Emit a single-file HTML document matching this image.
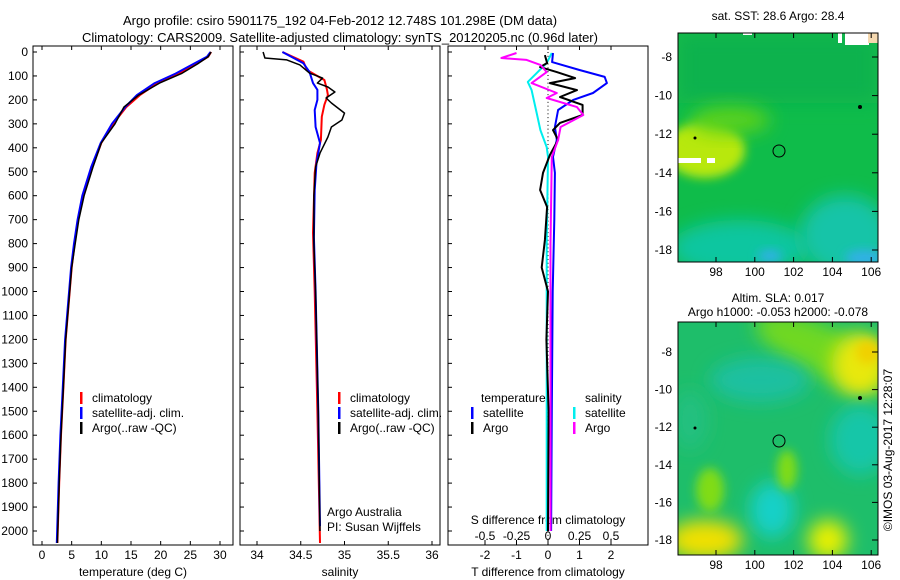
<!DOCTYPE html>
<html><head><meta charset="utf-8">
<style>
body{margin:0;background:#fff;}
svg{display:block;font-family:"Liberation Sans",sans-serif;font-size:12px;}
</style></head>
<body>
<svg id="c" width="900" height="580">
<defs>
<filter id="bl" x="-50%" y="-50%" width="200%" height="200%"><feGaussianBlur stdDeviation="9"/></filter>
<filter id="bl2" x="-50%" y="-50%" width="200%" height="200%"><feGaussianBlur stdDeviation="5"/></filter>
<clipPath id="m1"><rect x="678" y="33" width="200" height="229"/></clipPath>
<clipPath id="m2"><rect x="678" y="322" width="200" height="233"/></clipPath>
</defs>
<text x="340" y="25" text-anchor="middle" font-size="13">Argo profile: csiro 5901175_192 04-Feb-2012 12.748S 101.298E (DM data)</text>
<text x="340" y="42" text-anchor="middle" font-size="13">Climatology: CARS2009. Satellite-adjusted climatology: synTS_20120205.nc (0.96d later)</text>

<g>
<text x="778" y="20" text-anchor="middle">sat. SST: 28.6 Argo: 28.4</text>
<g clip-path="url(#m1)">
<rect x="678" y="33" width="200" height="229" fill="#0fbc4a"/>
<rect x="678" y="33" width="200" height="70" fill="#08b24e" filter="url(#bl)"/>
<ellipse cx="705" cy="150" rx="40" ry="28" fill="#b8e80c" filter="url(#bl2)"/>
<ellipse cx="730" cy="120" rx="40" ry="14" fill="#5ad21e" filter="url(#bl)"/>
<ellipse cx="740" cy="248" rx="70" ry="28" fill="#10c6a0" filter="url(#bl)"/>
<ellipse cx="845" cy="235" rx="45" ry="40" fill="#12c4a8" filter="url(#bl)"/>
<ellipse cx="865" cy="258" rx="20" ry="8" fill="#30b0e8" filter="url(#bl2)"/>
<ellipse cx="770" cy="256" rx="12" ry="6" fill="#30b0e8" filter="url(#bl2)"/>
<rect x="743" y="33" width="9" height="2" fill="#fff"/>
<rect x="845" y="33" width="24" height="12" fill="#fff"/>
<rect x="838" y="33" width="4" height="10" fill="#fff"/>
<rect x="868" y="33" width="10" height="10" fill="#f4d8b0"/>
<rect x="678" y="158" width="23" height="5" fill="#fff"/>
<rect x="707" y="158" width="8" height="5" fill="#fff"/>
</g>
<circle cx="860" cy="107" r="2" fill="#000"/><circle cx="695" cy="138" r="1.5" fill="#000"/>
<circle cx="779" cy="151" r="6" fill="none" stroke="#000"/>
<rect x="678" y="33" width="200" height="229" fill="none" stroke="#000"/>
</g>

<g>
<text x="778" y="302" text-anchor="middle">Altim. SLA: 0.017</text>
<text x="778" y="316" text-anchor="middle">Argo h1000: -0.053 h2000: -0.078</text>
<g clip-path="url(#m2)">
<rect x="678" y="322" width="200" height="233" fill="#1ebe6a"/>
<ellipse cx="820" cy="350" rx="70" ry="25" fill="#70d820" filter="url(#bl)" transform="rotate(25 820 350)"/>
<ellipse cx="860" cy="365" rx="28" ry="32" fill="#e8e808" filter="url(#bl)"/>
<ellipse cx="868" cy="352" rx="12" ry="12" fill="#f0d000" filter="url(#bl2)"/>
<ellipse cx="760" cy="380" rx="50" ry="22" fill="#1cc0a0" filter="url(#bl)"/>
<ellipse cx="860" cy="440" rx="30" ry="35" fill="#18c6a8" filter="url(#bl)"/>
<ellipse cx="772" cy="510" rx="22" ry="28" fill="#18d0c8" filter="url(#bl)"/>
<ellipse cx="705" cy="540" rx="38" ry="20" fill="#f0e000" filter="url(#bl)"/>
<ellipse cx="828" cy="540" rx="20" ry="20" fill="#e8f000" filter="url(#bl)"/>
<ellipse cx="710" cy="490" rx="14" ry="22" fill="#80dc18" filter="url(#bl2)"/>
<ellipse cx="787" cy="470" rx="10" ry="20" fill="#80dc18" filter="url(#bl2)"/>
<ellipse cx="690" cy="420" rx="18" ry="30" fill="#22c080" filter="url(#bl)"/>
</g>
<circle cx="860" cy="398" r="2" fill="#000"/><circle cx="695" cy="428" r="1.5" fill="#000"/>
<circle cx="779" cy="441" r="6" fill="none" stroke="#000"/>
<rect x="678" y="322" width="200" height="233" fill="none" stroke="#000"/>
</g>
<text transform="translate(892 450) rotate(-90)" text-anchor="middle">©IMOS 03-Aug-2017 12:28:07</text>
<g id="dyn"></g>
</svg>
<script>
const depthTicks=[0,100,200,300,400,500,600,700,800,900,1000,1100,1200,1300,1400,1500,1600,1700,1800,1900,2000];
const tTicks=[0,5,10,15,20,25,30];
const sTicks=[34,34.5,35,35.5,36];
const sTickLabels=["34","34.5","35","35.5","36"];
const tdTicks=[-2,-1,0,1,2];
const sdTicks=[-0.5,-0.25,0,0.25,0.5];
const sdTickLabels=["-0.5","-0.25","0","0.25","0.5"];
const latTicks=[-8,-10,-12,-14,-16,-18];
const lonTicks=[98,100,102,104,106];
// temperature profiles [value, depth]
const tempClimDepth=[0,20,50,90,130,180,230,300,380,480,600,700,800,900,1050,1200,1400,1600,1800,2050];
const tempClim=[28.5,28,26,23,19.5,16.5,14.2,12,10,8.5,7,6.1,5.5,5,4.5,4,3.6,3.2,2.9,2.6];
const tempSat=[28.4,27.8,25.5,22.5,19,16,14,11.8,9.9,8.3,6.8,6,5.4,4.9,4.4,3.9,3.5,3.1,2.8,2.5];
const tempArgo=[28.5,28,26.2,23.5,19.8,16.3,13.8,12.3,10,8.6,7.1,6.2,5.6,5,4.5,4,3.6,3.2,2.9,2.6];
// salinity
const salClimDepth=[0,40,75,117,158,180,220,270,367,422,505,755,1000,1500,2050];
const salClim=[34.29,34.53,34.57,34.77,34.8,34.81,34.77,34.74,34.73,34.69,34.66,34.64,34.66,34.69,34.72];
const salSatDepth=[0,47,83,130,158,200,242,313,380,463,576,773,1000,1500,1980];
const salSat=[34.29,34.53,34.6,34.64,34.69,34.69,34.66,34.67,34.72,34.68,34.66,34.65,34.67,34.7,34.72];
const salArgoDepth=[0,25,33,54,88,109,130,146,167,192,213,255,284,313,355,422,480,600,800,1000,1500,2000];
const salArgo=[34.07,34.09,34.34,34.49,34.6,34.75,34.69,34.81,34.89,34.79,34.85,35.0,34.97,34.85,34.81,34.72,34.67,34.65,34.65,34.67,34.7,34.72];
// T differences
const tdSatDepth=[4,42,75,104,130,171,200,242,313,367,438,505,700,1000,1500,2000];
const tdSat=[0.16,0.13,1.0,1.8,1.87,1.43,0.8,0.32,0.22,0.28,0.16,0.22,0.2,0.15,0.12,0.1];
const tdArgoDepth=[13,46,63,84,109,130,159,188,221,263,296,326,367,430,505,576,647,785,900,1000,1200,1500,2000];
const tdArgo=[-0.1,-0.03,-0.25,0.28,0.86,0.06,0.92,0.38,1.1,1.1,0.38,0.16,0.32,0.06,-0.16,-0.25,-0.03,-0.1,-0.2,0,-0.05,0.02,0];
// S differences
const sdArgoDepth=[4,25,33,54,84,130,171,192,230,263,313,367,438,800,1500,2000];
const sdArgo=[-0.25,-0.37,-0.17,-0.06,-0.01,-0.13,0.07,-0.01,0.23,0.28,0.1,0.08,0.03,0.02,0.02,0.02];
const sdSatDepth=[4,46,88,125,159,255,326,397,438,800,1500,2000];
const sdSat=[0.03,-0.01,-0.09,-0.16,-0.13,-0.09,-0.06,-0.01,0,-0.01,-0.01,-0.01];

const NS="http://www.w3.org/2000/svg";
const g=document.getElementById('dyn');
function mk(tag,attrs,parent){const e=document.createElementNS(NS,tag);for(const k in attrs)e.setAttribute(k,attrs[k]);(parent||g).appendChild(e);return e;}
const yD=d=>52+d*0.2395;
const xT=v=>42+v*5.933;
const xS=v=>257+(v-34)*87.5;
const xTD=v=>548+v*31.5;
const xSD=v=>548+v*126;
const panels=[[33,233],[240,440],[448,648]];
const TOP=46,BOT=545;
panels.forEach((p,i)=>{
  const r=mk('rect',{x:p[0],y:TOP,width:p[1]-p[0],height:BOT-TOP,fill:'none',stroke:'#000'});
  
  
  depthTicks.forEach(d=>{mk('line',{x1:p[0],x2:p[0]+4,y1:yD(d),y2:yD(d),stroke:'#000'});});
});
depthTicks.forEach(d=>{
  const t=mk('text',{x:28,y:yD(d)+4,'text-anchor':'end'});t.textContent=d;
  
  
});
function xAxis(ticks,labels,fx,y,tickTop,tickBot){
  ticks.forEach((v,i)=>{
    mk('line',{x1:fx(v),x2:fx(v),y1:tickTop,y2:tickBot,stroke:'#000'});
    const t=mk('text',{x:fx(v),y:y,'text-anchor':'middle'});t.textContent=labels[i];
    
    
  });
}
xAxis(tTicks,tTicks.map(String),xT,559,BOT-4,BOT);
tTicks.forEach(v=>mk('line',{x1:xT(v),x2:xT(v),y1:TOP,y2:TOP+4,stroke:'#000'}));
xAxis(sTicks,sTickLabels,xS,559,BOT-4,BOT);
sTicks.forEach(v=>mk('line',{x1:xS(v),x2:xS(v),y1:TOP,y2:TOP+4,stroke:'#000'}));
xAxis(tdTicks,tdTicks.map(String),xTD,559,BOT-4,BOT);
tdTicks.forEach(v=>mk('line',{x1:xTD(v),x2:xTD(v),y1:TOP,y2:TOP+4,stroke:'#000'}));
xAxis(sdTicks,sdTickLabels,xSD,540,BOT-5,BOT);
function lbl(x,y,s,name,anchor){const t=mk('text',{x:x,y:y,'text-anchor':anchor||'start'});t.textContent=s;
  
  return t;}
lbl(133,576,'temperature (deg C)','x-axis-title-temperature','middle');
lbl(340,576,'salinity','x-axis-title-salinity','middle');
lbl(548,576,'T difference from climatology','x-axis-title-tdiff','middle');
lbl(548,524,'S difference from climatology','sdiff-axis-title','middle');
lbl(327,516,'Argo Australia','credit-argo-australia');
lbl(327,531,'PI: Susan Wijffels','credit-pi');
// zero line
for(let d=0;d<2060;d+=16){mk('rect',{x:xTD(0)-0.5,y:yD(d),width:1,height:1,fill:'#000'});}
function line(vals,depths,fx,color,name,w){
  const pts=vals.map((v,i)=>fx(v).toFixed(1)+','+yD(depths[i]).toFixed(1)).join(' ');
  const e=mk('polyline',{points:pts,fill:'none',stroke:color,'stroke-width':w||2,'stroke-linejoin':'round'});
  
  
}
line(tempClim,tempClimDepth,xT,'#f00','temp-climatology-line');
line(tempSat,tempClimDepth,xT,'#00f','temp-satellite-line');
line(tempArgo,tempClimDepth,xT,'#000','temp-argo-line',1.5);
line(salClim,salClimDepth,xS,'#f00','sal-climatology-line');
line(salSat,salSatDepth,xS,'#00f','sal-satellite-line');
line(salArgo,salArgoDepth,xS,'#000','sal-argo-line',1.5);
line(sdSat,sdSatDepth,xSD,'#0ee','sdiff-satellite-line');
line(tdSat,tdSatDepth,xTD,'#00f','tdiff-satellite-line');
line(tdArgo,tdArgoDepth,xTD,'#000','tdiff-argo-line');
line(sdArgo,sdArgoDepth,xSD,'#f0f','sdiff-argo-line');
function legend(x,y,color,text,name){
  mk('rect',{x:x,y:y-10,width:2.5,height:12,fill:color});
  const t=lbl(x+12,y,text,name);
}
[[80,'climatology','#f00'],[80,'satellite-adj. clim.','#00f'],[80,'Argo(..raw -QC)','#000']].forEach((r,i)=>{
  legend(r[0],402+i*15,r[2],r[1],'legend-temp-'+i);
  legend(r[0]+258,402+i*15,r[2],r[1],'legend-sal-'+i);
});
lbl(481,402,'temperature','legend-temperature-header');
lbl(585,402,'salinity','legend-salinity-header');
legend(471,417,'#00f','satellite','legend-tdiff-satellite');
legend(471,432,'#000','Argo','legend-tdiff-argo');
legend(573,417,'#0ee','satellite','legend-sdiff-satellite');
legend(573,432,'#f0f','Argo','legend-sdiff-argo');
// map axes
const latY1=v=>57+(-8-v)*19.3;
const latY2=v=>352+(-8-v)*18.8;
const lonX=v=>716+(v-98)*19.4;
latTicks.forEach(v=>{
  [latY1,latY2].forEach(f=>{
    mk('line',{x1:872,x2:878,y1:f(v),y2:f(v),stroke:'#000'});
    const t=lbl(672,f(v)+4,String(v),'lat-tick-label','end');
  });
});
lonTicks.forEach(v=>{
  [[33,262],[322,555]].forEach(b=>{
    mk('line',{x1:lonX(v),x2:lonX(v),y1:b[0],y2:b[0]+5,stroke:'#000'});
    mk('line',{x1:lonX(v),x2:lonX(v),y1:b[1]-5,y2:b[1],stroke:'#000'});
    lbl(lonX(v),b[1]+14,String(v),'lon-tick-label','middle');
  });
});
</script>
</body></html>
